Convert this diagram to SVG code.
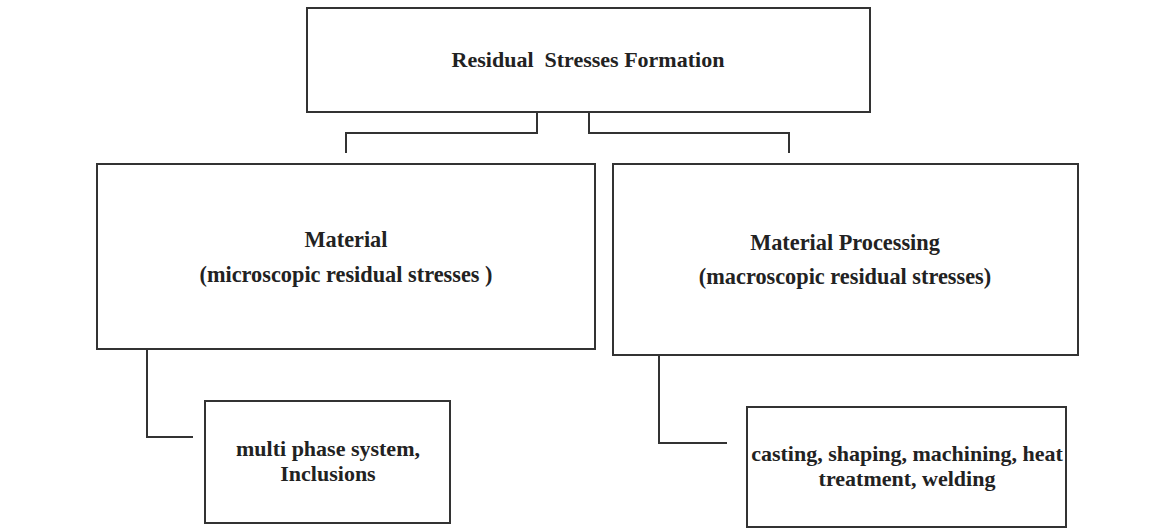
<svg xmlns="http://www.w3.org/2000/svg" width="1166" height="529" viewBox="0 0 1166 529">
<style>
.box{fill:#fff;stroke:#333;stroke-width:2}
.conn{fill:none;stroke:#333;stroke-width:2}
text{font-family:"Liberation Serif","Times New Roman",serif;font-weight:bold;fill:#222;text-anchor:middle}
.t21{font-size:22px}
.t22{font-size:22.3px}
.t20{font-size:22px}
</style>
<rect width="1166" height="529" fill="#fff"/>
<g id="connectors">
<path class="conn" d="M537 112 V133 H346 V153"/>
<path class="conn" d="M589 112 V133 H789 V153"/>
<path class="conn" d="M147 349 V437 H193"/>
<path class="conn" d="M659 355 V443 H727"/>
</g>
<g id="root">
<rect class="box" x="307" y="8" width="563" height="104"/>
<text class="t21" x="588" y="67" xml:space="preserve">Residual  Stresses Formation</text>
</g>
<g id="material">
<rect class="box" x="97" y="164" width="498" height="185"/>
<text class="t22" x="346" y="247">Material</text>
<text class="t22" x="346" y="282">(microscopic residual stresses )</text>
</g>
<g id="processing">
<rect class="box" x="613" y="164" width="465" height="191"/>
<text class="t22" x="845" y="250">Material Processing</text>
<text class="t22" x="845" y="284">(macroscopic residual stresses)</text>
</g>
<g id="multiphase">
<rect class="box" x="205" y="401" width="245" height="122"/>
<text class="t20" x="328" y="456">multi phase system,</text>
<text class="t20" x="328" y="481">Inclusions</text>
</g>
<g id="casting">
<rect class="box" x="747" y="407" width="319" height="120"/>
<text class="t20" x="907" y="461">casting, shaping, machining, heat</text>
<text class="t20" x="907" y="486">treatment, welding</text>
</g>
</svg>
